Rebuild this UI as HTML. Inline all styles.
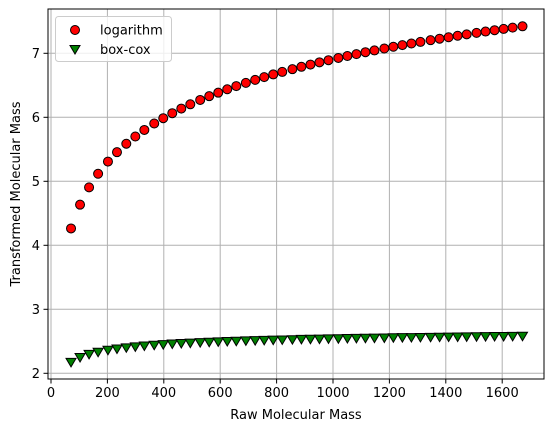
<!DOCTYPE html>
<html><head><meta charset="utf-8"><style>
html,body{margin:0;padding:0;background:#fff;}
svg{display:block;font-family:"DejaVu Sans","Liberation Sans",sans-serif;}
</style></head><body>
<svg id="chart" width="554" height="432" xmlns="http://www.w3.org/2000/svg">
<g id="grid"></g>
<g id="marks"></g>
<rect x="48" y="9" width="496" height="370" fill="none" stroke="#000" stroke-width="1"/>
<g id="ticks"></g>
<text x="296" y="419" text-anchor="middle" font-size="13">Raw Molecular Mass</text>
<text transform="translate(20,194) rotate(-90)" text-anchor="middle" font-size="13">Transformed Molecular Mass</text>
<g>
<rect x="55.5" y="16.5" width="116" height="45" rx="3" fill="#fff" fill-opacity="0.8" stroke="#ccc"/>
<g>
<circle cx="75" cy="30" r="4.5" fill="#ff0000" stroke="#000" stroke-width="1"/>
<text x="100" y="34.5" font-size="13">logarithm</text></g>
<g>
<path d="M70,45.5 L80,45.5 L75,54 Z" fill="#008000" stroke="#000" stroke-width="1"/>
<text x="100" y="54" font-size="13">box-cox</text></g>
</g>
</svg>
<script>
const rawMass = [71,103,135,167,202,234,267,299,331,366,398,430,462,494,529,561,593,625,657,691,724,756,788,820,856,888,920,952,984,1019,1051,1083,1115,1147,1182,1214,1246,1278,1310,1346,1378,1410,1442,1474,1509,1541,1573,1605,1637,1672];
const logValues = [4.263,4.635,4.905,5.118,5.308,5.455,5.587,5.700,5.802,5.903,5.986,6.064,6.136,6.203,6.271,6.330,6.385,6.438,6.488,6.538,6.585,6.628,6.670,6.709,6.752,6.789,6.824,6.859,6.892,6.927,6.958,6.987,7.017,7.045,7.075,7.102,7.128,7.153,7.178,7.205,7.228,7.251,7.274,7.296,7.319,7.340,7.361,7.381,7.401,7.422];
const boxcoxValues = [2.179,2.254,2.303,2.337,2.367,2.388,2.406,2.421,2.434,2.446,2.456,2.465,2.473,2.480,2.487,2.493,2.499,2.504,2.509,2.514,2.518,2.522,2.526,2.529,2.533,2.537,2.540,2.542,2.545,2.548,2.551,2.553,2.556,2.558,2.560,2.563,2.565,2.566,2.568,2.570,2.572,2.574,2.575,2.577,2.579,2.580,2.582,2.583,2.584,2.586];
const xTicks = [0,200,400,600,800,1000,1200,1400,1600];
const yTicks = [2,3,4,5,6,7];

const NS="http://www.w3.org/2000/svg";
function xs(v){return 51+v*0.282;}
function ys(v){return 373.3-(v-2)*64;}
function mk(tag,attrs,parent){const e=document.createElementNS(NS,tag);for(const k in attrs)e.setAttribute(k,attrs[k]);parent.appendChild(e);return e;}
const grid=document.getElementById('grid'),ticks=document.getElementById('ticks'),marks=document.getElementById('marks');
xTicks.forEach(t=>{
  const x=xs(t);
  const g=mk('line',{x1:x,x2:x,y1:9,y2:379,stroke:'#b0b0b0','stroke-width':1},grid);
  
  
  mk('line',{x1:x,x2:x,y1:379,y2:383.5,stroke:'#000'},ticks);
  const l=mk('text',{x:x,y:397,'text-anchor':'middle','font-size':13},ticks);
  l.textContent=t;
  
  
});
yTicks.forEach(t=>{
  const y=ys(t);
  const g=mk('line',{x1:48,x2:544,y1:y,y2:y,stroke:'#b0b0b0','stroke-width':1},grid);
  
  
  mk('line',{x1:43.5,x2:48,y1:y,y2:y,stroke:'#000'},ticks);
  const l=mk('text',{x:40,y:y+4.5,'text-anchor':'end','font-size':13},ticks);
  l.textContent=t;
  
  
});
rawMass.forEach((m,i)=>{
  const c=mk('circle',{cx:xs(m),cy:ys(logValues[i]),r:4.5,fill:'#ff0000',stroke:'#000','stroke-width':1},marks);
  
  
});
rawMass.forEach((m,i)=>{
  const x=xs(m),y=ys(boxcoxValues[i]);
  const p=mk('path',{d:`M${x-5},${y-3.5} L${x+5},${y-3.5} L${x},${y+5} Z`,fill:'#008000',stroke:'#000','stroke-width':1},marks);
  
  
});
</script>
</body></html>
